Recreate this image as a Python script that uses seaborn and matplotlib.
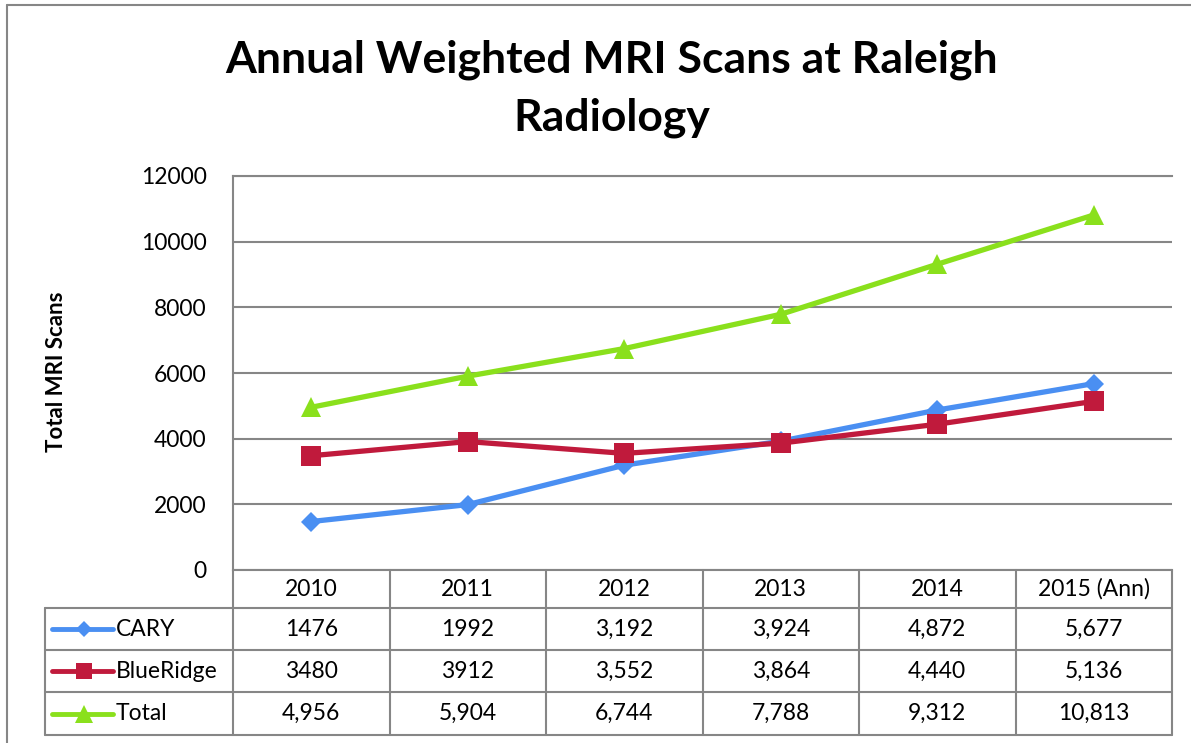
import numpy as np
import pandas as pd
import matplotlib.pyplot as plt
import seaborn as sns
from matplotlib.lines import Line2D
from matplotlib.transforms import blended_transform_factory

# chart data
years = ["2010", "2011", "2012", "2013", "2014", "2015 (Ann)"]
series_names = ["CARY", "BlueRidge", "Total"]
cary = [1476, 1992, 3192, 3924, 4872, 5677]
blueridge = [3480, 3912, 3552, 3864, 4440, 5136]
total = [4956, 5904, 6744, 7788, 9312, 10813]
# table cell text as printed under the chart
cary_text = ["1476", "1992", "3,192", "3,924", "4,872", "5,677"]
blueridge_text = ["3480", "3912", "3,552", "3,864", "4,440", "5,136"]
total_text = ["4,956", "5,904", "6,744", "7,788", "9,312", "10,813"]

colors = {"CARY": "#4A8FF2", "BlueRidge": "#C01A3C", "Total": "#8AE01C"}
markers = {"CARY": "D", "BlueRidge": "s", "Total": "^"}
msize = {"CARY": 10, "BlueRidge": 14, "Total": 15}

values = {"CARY": cary, "BlueRidge": blueridge, "Total": total}
texts = {"CARY": cary_text, "BlueRidge": blueridge_text, "Total": total_text}
df = pd.concat([pd.DataFrame({"pos": np.arange(len(years)), "value": values[n], "series": n})
                for n in series_names], ignore_index=True)

sns.set_style("white")
plt.rcParams['font.family'] = ['Lato', 'DejaVu Sans']
plt.rcParams['text.color'] = 'black'
plt.rcParams['ytick.color'] = 'black'

W, H = 1191, 743
gc = "#868686"
fs = 16.5
fx = lambda p: p / W
fy = lambda p: 1 - p / H

fig = plt.figure(figsize=(W / 100, H / 100), dpi=100)
ax = fig.add_axes([fx(233), fy(570), (1172 - 233) / W, (570 - 176) / H])

for name in series_names:
    sub = df[df["series"] == name]
    sns.lineplot(data=sub, x="pos", y="value", color=colors[name], marker=markers[name],
                 markersize=msize[name], markeredgewidth=0, linewidth=3.8, ax=ax, legend=False)

ax.set_xlim(-0.5, len(years) - 0.5)
ax.set_ylim(0, 12000)
ax.set_xticks([])
ax.set_yticks(range(0, 12001, 2000))
ax.tick_params(axis="y", length=0, pad=19, labelsize=fs, labelcolor="black")
ax.grid(axis="y", color=gc, lw=1.5)
ax.set_axisbelow(True)
ax.set_xlabel("")
ax.set_ylabel("")
ax.spines["right"].set_visible(False)
for s in ["left", "bottom", "top"]:
    ax.spines[s].set_color(gc)
    ax.spines[s].set_linewidth(1.5)

# titles
fig.text(fx(612), fy(73), "Annual Weighted MRI Scans at Raleigh", ha="center", va="baseline",
         fontsize=32, fontweight="bold")
fig.text(fx(612), fy(131), "Radiology", ha="center", va="baseline", fontsize=32, fontweight="bold")
fig.text(fx(57), fy(372), "Total MRI Scans", rotation=90, ha="center", va="center",
         fontsize=16, fontweight="bold")

# outer chart border
fig.add_artist(Line2D([fx(7), fx(7)], [fy(5), 0], transform=fig.transFigure, color=gc, lw=1.5))
fig.add_artist(Line2D([fx(7), 1], [fy(5), fy(5)], transform=fig.transFigure, color=gc, lw=1.5))

# data table
trans = blended_transform_factory(ax.transData, fig.transFigure)
row_edges = [570, 608, 650, 692, 735]
for i in range(len(years) + 1):
    fig.add_artist(Line2D([i - 0.5, i - 0.5], [fy(570), fy(735)], transform=trans, color=gc, lw=1.5))
fig.add_artist(Line2D([fx(45), fx(45)], [fy(608), fy(735)], transform=fig.transFigure, color=gc, lw=1.5))
for y in row_edges[1:]:
    fig.add_artist(Line2D([fx(45), fx(1172)], [fy(y), fy(y)], transform=fig.transFigure, color=gc, lw=1.5))

for i, yr in enumerate(years):
    fig.text(0, 0, yr, transform=trans, fontsize=fs, ha="center", va="center").set_position((i, fy(589)))

for r, name in enumerate(series_names):
    yc = (row_edges[r + 1] + row_edges[r + 2]) / 2
    fig.add_artist(Line2D([fx(52), fx(113)], [fy(yc), fy(yc)], transform=fig.transFigure,
                          color=colors[name], lw=3.5, solid_capstyle="round"))
    fig.add_artist(Line2D([fx(84)], [fy(yc)], transform=fig.transFigure, color=colors[name],
                          marker=markers[name], markersize=msize[name] * 0.85, markeredgewidth=0))
    fig.text(fx(116), fy(yc), name, fontsize=fs, ha="left", va="center")
    for i, t in enumerate(texts[name]):
        fig.text(0, 0, t, transform=trans, fontsize=fs, ha="center", va="center").set_position((i, fy(yc)))

fig.savefig("out.png", dpi=100)
